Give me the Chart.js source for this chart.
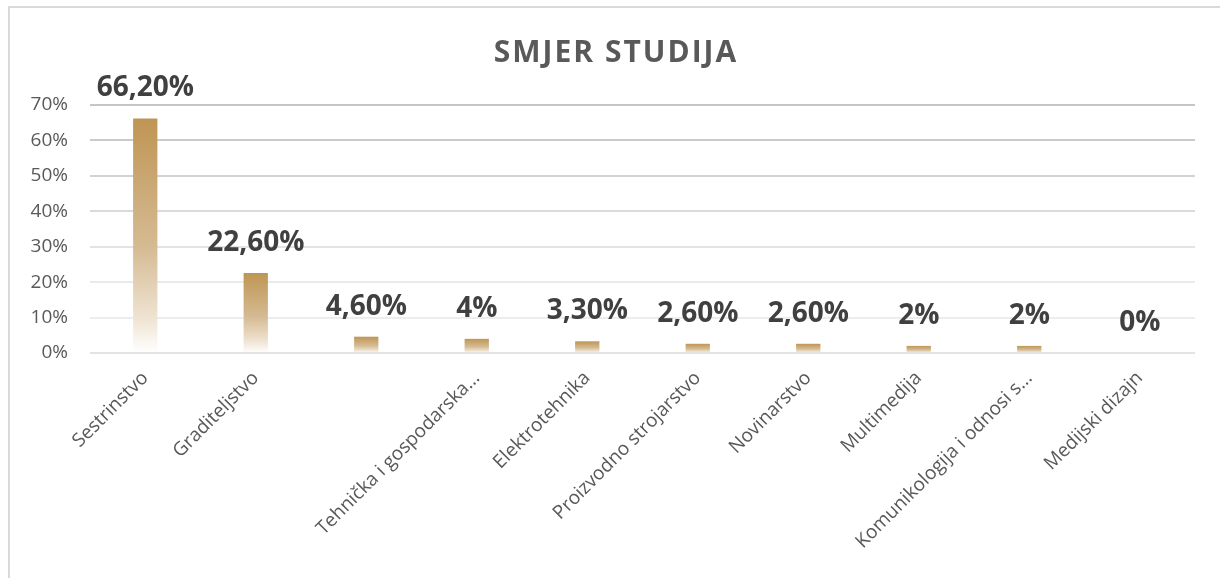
<!DOCTYPE html>
<html>
<head>
<meta charset="utf-8">
<script src="https://cdn.jsdelivr.net/npm/chart.js@4"></script>
<style>
  html, body { margin: 0; padding: 0; background: #fff; }
  #frame {
    position: absolute; left: 8px; top: 6px; width: 1300px; height: 700px;
    border-top: 2px solid #d9d9d9; border-left: 2px solid #d9d9d9;
  }
  #wrap { position: absolute; left: 0; top: 0; width: 1220px; height: 578px; }
</style>
</head>
<body>
<div id="frame"></div>
<div id="wrap"><canvas id="studyChart"></canvas></div>
<script>
// Chart data (third category has no visible label in the source)
const categories = [
  'Sestrinstvo', 'Graditeljstvo', '', 'Tehnička i gospodarska...', 'Elektrotehnika',
  'Proizvodno strojarstvo', 'Novinarstvo', 'Multimedija',
  'Komunikologija i odnosi s...', 'Medijski dizajn'
];
const percentValues = [66.2, 22.6, 4.6, 4, 3.3, 2.6, 2.6, 2, 2, 0];
const valueLabels = ['66,20%', '22,60%', '4,60%', '4%', '3,30%', '2,60%', '2,60%', '2%', '2%', '0%'];
const yTicks = [0, 10, 20, 30, 40, 50, 60, 70];
const chartTitle = 'SMJER STUDIJA';

const FONT = "'Open Sans', sans-serif";
const TEXT_GRAY = '#595959';

// Gridlines get lighter towards the base, like the original
const gridShades = ['#e3e3e3', '#ededed', '#eaeaea', '#e3e3e3', '#dadada', '#d2d2d2', '#cbcbcb', '#c6c6c6'];

// Per-bar gradient: gold at the top fading to white at the base
function barGradient(ctx) {
  const chart = ctx.chart;
  const yScale = chart.scales.y;
  if (!chart.chartArea || !yScale || ctx.parsed === undefined) return '#c09656';
  const top = yScale.getPixelForValue(ctx.parsed.y);
  const base = yScale.getPixelForValue(0);
  if (base - top < 1) return '#c09656';
  const g = chart.ctx.createLinearGradient(0, top, 0, base);
  g.addColorStop(0, '#bf9554');
  g.addColorStop(0.55, '#d5bb93');
  g.addColorStop(0.85, '#efe3d2');
  g.addColorStop(1, '#ffffff');
  return g;
}

// Title drawn by hand so it can be letter-spaced like the original
const titlePlugin = {
  id: 'spacedTitle',
  afterDraw(chart) {
    const ctx = chart.ctx;
    ctx.save();
    ctx.font = `bold 30px ${FONT}`;
    ctx.fillStyle = TEXT_GRAY;
    ctx.textAlign = 'center';
    ctx.textBaseline = 'alphabetic';
    if ('letterSpacing' in ctx) ctx.letterSpacing = '2px';
    ctx.fillText(chartTitle, chart.width / 2 + 6, 62);
    ctx.restore();
  }
};

// Value labels above bars
const valueLabelPlugin = {
  id: 'valueLabels',
  afterDatasetsDraw(chart) {
    const ctx = chart.ctx;
    const meta = chart.getDatasetMeta(0);
    ctx.save();
    ctx.font = `bold 28px ${FONT}`;
    ctx.fillStyle = '#404040';
    ctx.textAlign = 'center';
    ctx.textBaseline = 'alphabetic';
    meta.data.forEach((bar, i) => {
      ctx.fillText(valueLabels[i], bar.x, bar.y - 22);
    });
    ctx.restore();
  }
};

const chartCtx = document.getElementById('studyChart').getContext('2d');
new Chart(chartCtx, {
  type: 'bar',
  data: {
    labels: categories,
    datasets: [{
      data: percentValues,
      backgroundColor: barGradient,
      borderWidth: 0,
      barPercentage: 0.22,
      categoryPercentage: 1
    }]
  },
  options: {
    responsive: true,
    maintainAspectRatio: false,
    animation: false,
    layout: { padding: { left: 8, right: 25, top: 105, bottom: 0 } },
    plugins: {
      legend: { display: false },
      tooltip: { enabled: false },
      title: { display: false }
    },
    scales: {
      x: {
        grid: { display: false, drawTicks: false },
        border: { display: false },
        ticks: {
          color: TEXT_GRAY,
          font: { family: FONT, size: 19 },
          minRotation: 45,
          maxRotation: 45,
          autoSkip: false,
          padding: 14
        },
        afterFit: (s) => { s.height = 225; }
      },
      y: {
        min: 0,
        max: 70,
        afterBuildTicks: (s) => { s.ticks = yTicks.map(v => ({ value: v })); },
        grid: {
          color: (ctx) => gridShades[ctx.index] || '#d9d9d9',
          lineWidth: 2,
          drawTicks: false
        },
        border: { display: false },
        ticks: {
          color: TEXT_GRAY,
          font: { family: FONT, size: 19 },
          padding: 22,
          callback: (v) => v + '%'
        },
        afterFit: (s) => { s.width = 82; }
      }
    }
  },
  plugins: [valueLabelPlugin, titlePlugin]
});
</script>
</body>
</html>
